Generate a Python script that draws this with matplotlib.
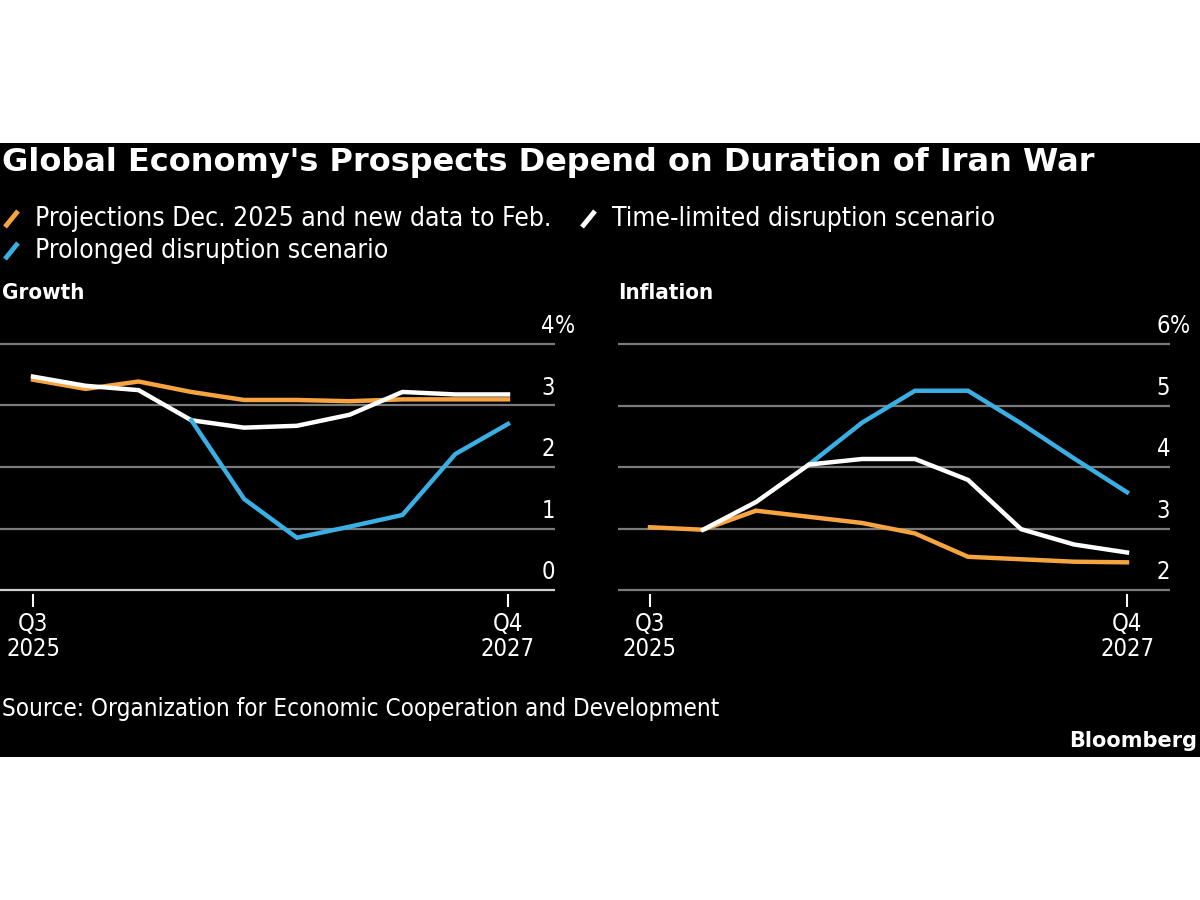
import matplotlib
matplotlib.use("Agg")
import matplotlib.pyplot as plt
from matplotlib.lines import Line2D
from matplotlib.patches import Rectangle
from matplotlib import font_manager

quarters = ["Q3\n2025", "Q4", "Q1", "Q2", "Q3", "Q4", "Q1", "Q2", "Q3", "Q4\n2027"]

growth_base = [3.42, 3.27, 3.39, 3.22, 3.09, 3.09, 3.07, 3.10, 3.10, 3.10]
growth_limited = [3.47, 3.32, 3.25, 2.76, 2.64, 2.67, 2.85, 3.22, 3.18, 3.18]
growth_prolonged = [None, None, None, 2.76, 1.48, 0.85, 1.03, 1.22, 2.21, 2.70]

infl_base = [3.02, 2.98, 3.29, 3.19, 3.09, 2.92, 2.54, 2.50, 2.46, 2.45]
infl_limited = [None, 2.98, 3.43, 4.04, 4.13, 4.13, 3.79, 2.99, 2.74, 2.61]
infl_prolonged = [None, None, None, 4.04, 4.72, 5.24, 5.24, 4.71, 4.14, 3.59]

ORANGE = "#F5A440"
WHITE = "#FFFFFF"
BLUE = "#3AAFE4"
GRID = "#7a7a7a"

# use a condensed face when one is installed
condensed = [f for f in font_manager.fontManager.ttflist
             if f.name == "DejaVu Sans" and f.stretch not in ("normal", 500)]
STRETCH = "condensed" if condensed else "normal"
BASE = 19 if condensed else 17
plt.rcParams["font.family"] = ["DejaVu Sans"]
plt.rcParams["font.stretch"] = STRETCH

W, H = 1200, 900
fig = plt.figure(figsize=(12, 9), dpi=100)
fig.patch.set_facecolor("white")
fig.patches.append(Rectangle((0, (H - 757) / H), 1, (757 - 143) / H,
                             transform=fig.transFigure, facecolor="black", zorder=-10))


def fx(px):
    return px / W


def fy(py):
    return (H - py) / H


fig.text(fx(2), fy(163), "Global Economy's Prospects Depend on Duration of Iran War",
         color="white", fontsize=23, fontweight="bold", fontstretch="normal",
         va="center", ha="left")

legend = [(5, 219, ORANGE, "Projections Dec. 2025 and new data to Feb."),
          (582, 219, WHITE, "Time-limited disruption scenario"),
          (5, 251, BLUE, "Prolonged disruption scenario")]
for x0, y0, c, label in legend:
    fig.lines.append(Line2D([fx(x0), fx(x0 + 13)], [fy(y0 + 8), fy(y0 - 8)],
                            transform=fig.transFigure, color=c, lw=3.5,
                            solid_capstyle="butt"))
    fig.text(fx(x0 + 30), fy(y0), label, color="white", fontsize=BASE,
             va="center", ha="left")

fig.text(fx(2), fy(293), "Growth", color="white", fontsize=16, fontweight="bold",
         va="center", ha="left")
fig.text(fx(618), fy(293), "Inflation", color="white", fontsize=16,
         fontweight="bold", va="center", ha="left")

fig.text(fx(2), fy(709), "Source: Organization for Economic Cooperation and Development",
         color="white", fontsize=17.4, va="center", ha="left")
fig.text(fx(1197), fy(741), "Bloomberg", color="white", fontsize=15, fontweight="bold",
         fontstretch="normal", va="center", ha="right")


def panel(left_px, right_px, x0_px, x9_px, ymin, series, ticks, zero_bright):
    unit = 61.5
    top_val = ymin + 4
    pad = 0.06
    bottom_px = 590 + pad * unit
    top_px = 344 - pad * unit
    ax = fig.add_axes([fx(left_px), fy(bottom_px), fx(right_px - left_px),
                       (bottom_px - top_px) / H])
    ax.set_facecolor("none")
    step = (x9_px - x0_px) / 9
    ax.set_xlim(-(x0_px - left_px) / step, (right_px - x0_px) / step)
    ax.set_ylim(ymin - pad, top_val + pad)
    for s in ax.spines.values():
        s.set_visible(False)
    for v in ticks:
        col = "#d0d0d0" if (v == ymin and zero_bright) else GRID
        ax.axhline(v, color=col, lw=1.6, zorder=1)
        ax.annotate(str(v), xy=(1, v), xycoords=("axes fraction", "data"),
                    xytext=(0, 4), textcoords="offset points", ha="right", va="bottom",
                    color="white", fontsize=17)
        if v == top_val:
            ax.annotate("%", xy=(1, v), xycoords=("axes fraction", "data"),
                        xytext=(0, 4), textcoords="offset points", ha="left",
                        va="bottom", color="white", fontsize=17)
    xs = list(range(len(quarters)))
    for vals, c in series:
        pts = [(x, v) for x, v in zip(xs, vals) if v is not None]
        ax.plot([p[0] for p in pts], [p[1] for p in pts], color=c, lw=3.2,
                solid_joinstyle="miter", zorder=3)
    ax.set_yticks([])
    ax.set_xticks([0, 9])
    ax.set_xticklabels([quarters[0], quarters[9]])
    ax.tick_params(axis="x", direction="out", length=9, width=1.5, color="white",
                   labelcolor="white", labelsize=17, pad=4)
    for t in ax.get_xticklabels():
        t.set_linespacing(1.05)
    return ax


panel(0, 555, 33, 508, 0,
      [(growth_base, ORANGE), (growth_limited, WHITE), (growth_prolonged, BLUE)],
      [0, 1, 2, 3, 4], True)
panel(618, 1170, 650, 1127, 2,
      [(infl_base, ORANGE), (infl_prolonged, BLUE), (infl_limited, WHITE)],
      [2, 3, 4, 5, 6], False)

fig.savefig("out.png", dpi=100, facecolor="white")
